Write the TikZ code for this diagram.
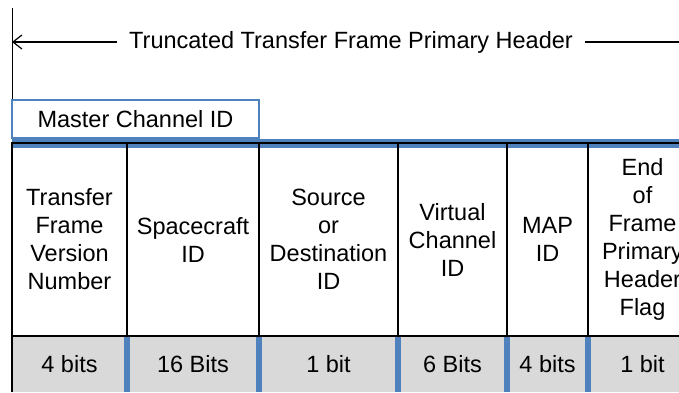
\documentclass[tikz,border=0pt]{standalone}
\usepackage{fontspec}
\setmainfont{Liberation Sans}
\usetikzlibrary{arrows.meta}
\definecolor{hdrblue}{RGB}{79,129,189}
\definecolor{bitgrey}{RGB}{217,217,217}
\newcommand{\hdrfont}{\fontsize{23.5}{28}\selectfont}

\begin{document}
\begin{tikzpicture}[x=1pt,y=-1pt,
    field/.style={draw,line width=1.5pt,anchor=north west,minimum height=193pt,align=center,inner sep=0pt,outer sep=0pt,font=\hdrfont},
    bits/.style={fill=bitgrey,anchor=north west,minimum height=56pt,inner sep=0pt,outer sep=0pt,font=\hdrfont},
    sepbar/.style={draw=hdrblue,line width=6pt},
    band/.style={draw=hdrblue,line width=9pt}]
    \useasboundingbox (0,0) rectangle (679,392);
    \clip (0,0) rectangle (679,392);
    %% Header span
    \coordinate (top) at (12,8);
    \coordinate (rightend) at (690,42);
    \coordinate (hdrtop) at (12,143);
    \node[font=\hdrfont,inner xsep=12pt,inner ysep=0pt] (title) at (351,42) {Truncated Transfer Frame Primary Header};
    \draw[line width=1.2pt,-{Straight Barb[length=9pt,width=14pt]}] (title.west) -- (title.west -| top);
    \draw[line width=1.2pt] (title.east) -- (rightend);
    \draw[line width=1pt] (top) -- (hdrtop);
    \draw[band] (hdrtop) -- ++(680,0);
    \node[draw=hdrblue,line width=1.5pt,fill=white,anchor=north west,minimum width=247pt,minimum height=38pt,outer sep=0pt,font=\hdrfont] (mcid) at (12,100) {Master Channel ID};
    %% Bit lengths
    \node[bits,minimum width=115pt] (b1) at (12,336) {4 bits};
    \node[bits,minimum width=132pt] (b2) at (127,336) {16 Bits};
    \node[bits,minimum width=139pt] (b3) at (259,336) {1 bit};
    \node[bits,minimum width=109pt] (b4) at (398,336) {6 Bits};
    \node[bits,minimum width=81pt] (b5) at (507,336) {4 bits};
    \node[bits,minimum width=109pt] (b6) at (588,336) {1 bit};
    \draw[line width=1.5pt] (b1.north west) -- (b1.south west);
    \draw[sepbar] (b1.north east) -- (b1.south east);
    \draw[sepbar] (b2.north east) -- (b2.south east);
    \draw[sepbar] (b3.north east) -- (b3.south east);
    \draw[sepbar] (b4.north east) -- (b4.south east);
    \draw[sepbar] (b5.north east) -- (b5.south east);
    %% Fields
    \node[field,minimum width=115pt] (f1) at (12,143) {Transfer\\Frame\\Version\\Number};
    \node[field,minimum width=132pt] (f2) at (127,143) {Spacecraft\\ID};
    \node[field,minimum width=139pt] (f3) at (259,143) {Source\\or\\Destination\\ID};
    \node[field,minimum width=109pt] (f4) at (398,143) {Virtual\\Channel\\ID};
    \node[field,minimum width=81pt] (f5) at (507,143) {MAP\\ID};
    \node[field,minimum width=109pt] (f6) at (588,143) {End\\of\\Frame\\Primary\\Header\\Flag};
\end{tikzpicture}
\end{document}
